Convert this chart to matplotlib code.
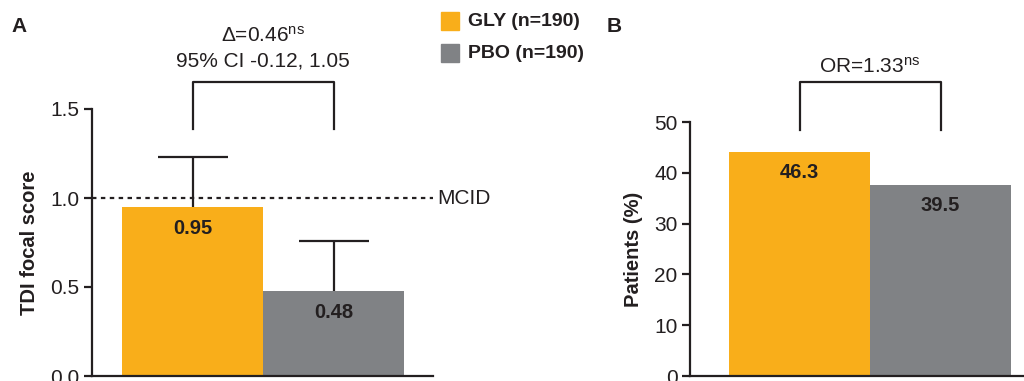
import matplotlib
matplotlib.use("Agg")
import matplotlib.pyplot as plt
from matplotlib.patches import Rectangle

plt.rcParams['font.family'] = ['Liberation Sans', 'DejaVu Sans']
plt.rcParams['mathtext.default'] = 'regular'

# data
groups = ['GLY (n=190)', 'PBO (n=190)']
colors = ['#F9AE1A', '#808285']
tdi_mean = [0.95, 0.48]
tdi_err_upper = [0.28, 0.28]
# bar heights as drawn in the figure, and the labels printed on them
resp_height = [44.1, 37.6]
resp_labels = ['46.3', '39.5']

ink = '#231F20'
W, H = 1024, 381


def fx(px):
    return px / W


def fy(py):
    return 1 - py / H


fig = plt.figure(figsize=(W / 100, H / 100), dpi=100)

# panel A
axA = fig.add_axes([fx(92), fy(376), fx(433 - 92), (376 - 109) / H])
x = [0, 1]
axA.bar(x, tdi_mean, width=1.0, color=colors, zorder=2)
eb = axA.errorbar(x, tdi_mean, yerr=[[0, 0], tdi_err_upper], fmt='none', ecolor=ink,
                  elinewidth=1.6, capsize=25, capthick=1.6, zorder=3, clip_on=False)
eb[1][0].set_visible(False)  # only the upper cap
axA.plot([-0.715, 1.703], [1.0, 1.0], color=ink, lw=1.6, ls=(0, (2, 2)), zorder=1,
         clip_on=False)
axA.text(1.73, 1.0, 'MCID', ha='left', va='center', fontsize=15, color=ink)
for xi, v in zip(x, tdi_mean):
    axA.annotate(f'{v:.2f}', (xi, v), xytext=(0, -9), textcoords='offset points',
                 ha='center', va='top', fontsize=14.5, fontweight='bold', color=ink)
axA.plot([0, 0, 1, 1], [1.39, 1.652, 1.652, 1.39], color=ink, lw=1.6, clip_on=False)
axA.text(0.5, 1.91, 'Δ=0.46$^{ns}$', ha='center', va='center', fontsize=15, color=ink)
axA.text(0.5, 1.77, '95% CI -0.12, 1.05', ha='center', va='center', fontsize=15, color=ink)
axA.set_xlim(-0.715, 1.703)
axA.set_ylim(0, 1.5)
axA.set_yticks([0, 0.5, 1.0, 1.5])
axA.set_yticklabels(['0.0', '0.5', '1.0', '1.5'])
axA.set_xticks([])
axA.set_ylabel('TDI focal score', fontsize=14.5, fontweight='bold', color=ink, labelpad=8)

# panel B
axB = fig.add_axes([fx(690), fy(376), fx(1024 - 690), (376 - 122) / H])
axB.bar(x, resp_height, width=1.0, color=colors, zorder=2)
for xi, v, lab in zip(x, resp_height, resp_labels):
    axB.annotate(lab, (xi, v), xytext=(0, -8), textcoords='offset points',
                 ha='center', va='top', fontsize=14.5, fontweight='bold', color=ink)
axB.plot([0, 0, 1, 1], [48.4, 57.9, 57.9, 48.4], color=ink, lw=1.6, clip_on=False)
axB.text(0.5, 60.8, 'OR=1.33$^{ns}$', ha='center', va='center', fontsize=15, color=ink)
axB.set_xlim(-0.777, 1.592)
axB.set_ylim(0, 50)
axB.set_yticks([0, 10, 20, 30, 40, 50])
axB.set_xticks([])
axB.set_ylabel('Patients (%)', fontsize=14.5, fontweight='bold', color=ink, labelpad=8)

for ax in (axA, axB):
    for s in ('top', 'right'):
        ax.spines[s].set_visible(False)
    for s in ('left', 'bottom'):
        ax.spines[s].set_linewidth(1.6)
        ax.spines[s].set_color(ink)
    ax.tick_params(axis='y', direction='out', length=6, width=1.6, color=ink,
                   labelsize=15, labelcolor=ink, pad=3)

# panel letters
fig.text(fx(11), fy(27), 'A', fontsize=15, fontweight='bold', color=ink, va='center')
fig.text(fx(607), fy(27), 'B', fontsize=15, fontweight='bold', color=ink, va='center')

# legend
for (label, col), cy in zip(zip(groups, colors), [21, 53]):
    fig.add_artist(Rectangle((fx(441), fy(cy + 9)), fx(18), 18 / H,
                             transform=fig.transFigure, color=col))
    fig.text(fx(468), fy(cy), label, fontsize=14, fontweight='bold', color=ink,
             va='center', ha='left')

fig.savefig('out.png', dpi=100)
